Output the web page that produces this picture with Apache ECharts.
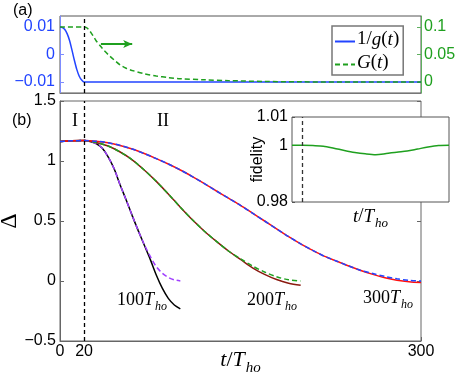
<!DOCTYPE html>
<html>
<head>
<meta charset="utf-8">
<script src="https://cdn.jsdelivr.net/npm/echarts@6/dist/echarts.min.js"></script>
<style>html,body{margin:0;padding:0;background:#fff;}#c{width:463px;height:386px;}</style>
</head>
<body>
<div id="c"></div>
<script>
// ---- panel (a) data ----
var tInvG = [0, 2, 4, 6, 8, 10, 12, 14, 16, 18, 20, 22, 300];
var invG  = [0.01, 0.0098, 0.0091, 0.0075, 0.005, 0.0015, -0.0022, -0.0055, -0.0079, -0.0093, -0.01, -0.01, -0.01];
var tG = [0, 20, 22, 24, 26, 28, 30, 33, 36, 40, 45, 50, 55, 60, 70, 80, 90, 100, 120, 140, 170, 200, 250, 300];
var Gv = [0.1, 0.1, 0.099, 0.095, 0.089, 0.082, 0.075, 0.067, 0.059, 0.05, 0.04, 0.031, 0.025, 0.021, 0.015, 0.011, 0.008, 0.006, 0.004, 0.0025, 0.001, 0.0003, 0, 0];
var leftTicksA = [-0.01, 0, 0.01];
var rightTicksA = [0, 0.05, 0.1];

// ---- panel (b) data ----
var t100 = [0, 10, 20, 25, 30, 35, 40, 45, 50, 55, 60, 65, 70, 75, 80, 85, 90, 95, 100];
var black100  = [1.163, 1.168, 1.17, 1.163, 1.145, 1.108, 1.035, 0.935, 0.80, 0.675, 0.545, 0.42, 0.30, 0.18, 0.05, -0.06, -0.145, -0.2, -0.232];
var purple100 = [1.163, 1.168, 1.17, 1.163, 1.145, 1.108, 1.035, 0.935, 0.80, 0.675, 0.545, 0.42, 0.305, 0.205, 0.12, 0.065, 0.03, 0.01, 0.0];
var t200 = [0, 10, 20, 30, 40, 50, 60, 70, 80, 90, 100, 110, 120, 130, 140, 150, 160, 170, 180, 190, 200];
var brown200 = [1.163, 1.168, 1.17, 1.155, 1.125, 1.075, 1.01, 0.925, 0.83, 0.725, 0.615, 0.51, 0.415, 0.33, 0.25, 0.18, 0.11, 0.055, 0.012, -0.018, -0.036];
var green200 = [1.163, 1.168, 1.17, 1.155, 1.125, 1.075, 1.01, 0.925, 0.83, 0.725, 0.615, 0.51, 0.415, 0.33, 0.25, 0.185, 0.125, 0.075, 0.035, 0.01, 0.0];
var t300 = [0, 10, 20, 30, 40, 50, 60, 70, 80, 90, 100, 110, 120, 130, 140, 150, 160, 170, 180, 190, 200, 210, 220, 230, 240, 250, 260, 270, 280, 290, 300];
var red300  = [1.163, 1.168, 1.17, 1.165, 1.152, 1.13, 1.1, 1.062, 1.02, 0.975, 0.925, 0.87, 0.812, 0.75, 0.69, 0.63, 0.565, 0.5, 0.435, 0.37, 0.31, 0.255, 0.205, 0.165, 0.125, 0.088, 0.055, 0.027, 0.007, -0.006, -0.013];
var blue300 = [1.163, 1.168, 1.17, 1.165, 1.152, 1.13, 1.1, 1.062, 1.02, 0.975, 0.925, 0.87, 0.812, 0.75, 0.69, 0.63, 0.565, 0.5, 0.435, 0.37, 0.31, 0.255, 0.205, 0.165, 0.125, 0.088, 0.062, 0.038, 0.018, 0.005, 0.0];
var xTicksB = [0, 20, 300];

// ---- inset data ----
var tFid = [0, 20, 40, 60, 80, 100, 120, 140, 160, 180, 200, 220, 240, 260, 280, 300];
var fid  = [1.0, 1.0, 0.9999, 0.9997, 0.999, 0.9982, 0.9975, 0.997, 0.9967, 0.9971, 0.9976, 0.998, 0.9987, 0.9994, 0.9999, 1.0];
var fidTicks = [0.98, 1, 1.01];

var switchTime = 20;

function zip(a, b) { return a.map(function (v, i) { return [v, b[i]]; }); }
function fmt(v) { return v < 0 ? '\u2212' + String(Math.abs(v)) : String(v); }

var SANS = '"Liberation Sans", Arial, Helvetica, sans-serif';
var SERIF = '"Liberation Serif", "Times New Roman", serif';
function mathRich(size) {
  var pb = Math.round(size * 0.22);
  return {
    i: {fontFamily: SERIF, fontStyle: 'italic', fontSize: size, color: '#000', verticalAlign: 'bottom', padding: [0, 0, pb, 0]},
    n: {fontFamily: SERIF, fontSize: size, color: '#000', verticalAlign: 'bottom', padding: [0, 0, pb, 0]},
    s: {fontFamily: SERIF, fontStyle: 'italic', fontSize: Math.round(size * 0.68), color: '#000', verticalAlign: 'bottom', padding: [0, 0, 0, 1]}
  };
}

var BLUE = '#2244ff', GREEN = '#1fa01f', FRAME = '#666';
var vline = function (color) {
  return {silent: true, symbol: 'none', label: {show: false},
    lineStyle: {color: color, type: [4, 3], width: 1.3}, data: [{xAxis: switchTime}]};
};

var chart = echarts.init(document.getElementById('c'), null, {renderer: 'canvas'});
var option = {
  animation: false,
  backgroundColor: '#fff',
  grid: [
    {left: 60, top: 16, width: 361, height: 77, show: true, borderColor: '#555', borderWidth: 1, outerBoundsMode: 'none', containLabel: false},
    {left: 60, top: 101, width: 361, height: 240, show: true, borderColor: FRAME, borderWidth: 1, outerBoundsMode: 'none', containLabel: false},
    {left: 292, top: 117, width: 157, height: 85, show: true, borderColor: '#555', borderWidth: 1, backgroundColor: '#fff', z: 10, outerBoundsMode: 'none', containLabel: false}
  ],
  legend: {
    data: ['1/g(t)', 'G(t)'],
    orient: 'vertical', left: 332, top: 26,
    itemWidth: 20, itemHeight: 12, itemGap: 4,
    padding: [4, 4, 3, 2],
    backgroundColor: '#fff', borderColor: '#777', borderWidth: 1.5,
    itemStyle: {opacity: 0},
    formatter: function (name) {
      return name === '1/g(t)' ? '{n|1/}{i|g}{n|(}{i|t}{n|)}' : '{i|G}{n|(}{i|t}{n|)}';
    },
    textStyle: {rich: mathRich(19), padding: [0, 0, 0, -3]}
  },
  xAxis: [
    {gridIndex: 0, type: 'value', min: 0, max: 300,
      axisLine: {show: true, onZero: false, lineStyle: {color: '#777'}},
      axisTick: {show: false}, axisLabel: {show: false}, splitLine: {show: false}},
    {gridIndex: 1, type: 'value', min: 0, max: 300,
      axisLine: {show: true, onZero: false, lineStyle: {color: FRAME}},
      axisTick: {show: true, inside: true, length: 4, customValues: xTicksB, lineStyle: {color: FRAME}},
      axisLabel: {customValues: xTicksB, color: '#000', fontSize: 16, fontFamily: SANS, margin: 3},
      splitLine: {show: false},
      name: '{i|t}{n|/}{i|T}{s|ho}', nameLocation: 'middle', nameGap: 8, nameMoveOverlap: false,
      nameTextStyle: {rich: mathRich(22)}},
    {gridIndex: 2, type: 'value', min: 0, max: 300, z: 11,
      axisLine: {show: false, onZero: false}, axisTick: {show: false}, axisLabel: {show: false}, splitLine: {show: false},
      name: '{i|t}{n|/}{i|T}{s|ho}', nameLocation: 'middle', nameGap: 5, nameMoveOverlap: false,
      nameTextStyle: {rich: mathRich(19)}}
  ],
  yAxis: [
    {gridIndex: 0, type: 'value', min: -0.014, max: 0.014, position: 'left',
      axisLine: {show: true, onZero: false, lineStyle: {color: '#7d8cff'}},
      axisTick: {show: true, inside: true, length: 4, customValues: leftTicksA, lineStyle: {color: '#7d8cff'}},
      axisLabel: {customValues: leftTicksA, color: BLUE, fontSize: 16, fontFamily: SANS, margin: 5, formatter: fmt},
      splitLine: {show: false}},
    {gridIndex: 0, type: 'value', min: -0.02, max: 0.12, position: 'right',
      axisLine: {show: true, onZero: false, lineStyle: {color: '#5fb05f'}},
      axisTick: {show: true, inside: true, length: 4, customValues: rightTicksA, lineStyle: {color: '#5fb05f'}},
      axisLabel: {customValues: rightTicksA, color: GREEN, fontSize: 16, fontFamily: SANS, margin: 3, formatter: fmt},
      splitLine: {show: false}},
    {gridIndex: 1, type: 'value', min: -0.5, max: 1.5, interval: 0.5, position: 'left',
      axisLine: {show: true, onZero: false, lineStyle: {color: FRAME}},
      axisTick: {show: true, inside: true, length: 4, lineStyle: {color: FRAME}},
      axisLabel: {color: '#000', fontSize: 16, fontFamily: SANS, margin: 4, formatter: fmt},
      splitLine: {show: false},
      name: '\u0394', nameLocation: 'middle', nameRotate: 90, nameGap: 38, nameMoveOverlap: false,
      nameTextStyle: {fontFamily: SERIF, fontSize: 24, color: '#000'}},
    {gridIndex: 1, type: 'value', min: -0.5, max: 1.5, interval: 0.5, position: 'right',
      axisLine: {show: false, onZero: false},
      axisTick: {show: true, inside: true, length: 4, lineStyle: {color: FRAME}},
      axisLabel: {show: false}, splitLine: {show: false}},
    {gridIndex: 2, type: 'value', min: 0.98, max: 1.01, position: 'left', z: 11,
      axisLine: {show: false, onZero: false},
      axisTick: {show: true, inside: true, length: 3, customValues: fidTicks, lineStyle: {color: '#555'}},
      axisLabel: {customValues: fidTicks, color: '#000', fontSize: 16, fontFamily: SANS, margin: 4, formatter: fmt},
      splitLine: {show: false},
      name: 'fidelity', nameLocation: 'middle', nameRotate: 90, nameGap: 26, nameMoveOverlap: false,
      nameTextStyle: {fontFamily: SANS, fontSize: 16, color: '#000'}}
  ],
  series: [
    {name: '1/g(t)', type: 'line', xAxisIndex: 0, yAxisIndex: 0, data: zip(tInvG, invG),
      showSymbol: false, symbol: 'none', smooth: 0.3, color: BLUE, lineStyle: {color: BLUE, width: 1.5},
      markLine: vline('#000')},
    {name: 'G(t)', type: 'line', xAxisIndex: 0, yAxisIndex: 1, data: zip(tG, Gv),
      showSymbol: false, symbol: 'none', smooth: 0.3, color: GREEN, lineStyle: {color: GREEN, width: 1.5, type: [5, 3]},
      markLine: {silent: true, symbol: ['none', 'arrow'], symbolSize: [6, 9], label: {show: false},
        lineStyle: {color: GREEN, type: 'solid', width: 2},
        data: [[{coord: [34, 0.069]}, {coord: [60, 0.069]}]]}},
    {name: 'black100', type: 'line', xAxisIndex: 1, yAxisIndex: 2, data: zip(t100, black100),
      symbol: 'none', smooth: 0.3, lineStyle: {color: '#000', width: 1.5}},
    {name: 'purple100', type: 'line', xAxisIndex: 1, yAxisIndex: 2, data: zip(t100, purple100),
      symbol: 'none', smooth: 0.3, lineStyle: {color: '#a040ff', width: 1.5, type: [5, 3]}},
    {name: 'brown200', type: 'line', xAxisIndex: 1, yAxisIndex: 2, data: zip(t200, brown200),
      symbol: 'none', smooth: 0.3, lineStyle: {color: '#8b1a10', width: 1.5}},
    {name: 'green200', type: 'line', xAxisIndex: 1, yAxisIndex: 2, data: zip(t200, green200),
      symbol: 'none', smooth: 0.3, lineStyle: {color: GREEN, width: 1.5, type: [5, 3]}},
    {name: 'red300', type: 'line', xAxisIndex: 1, yAxisIndex: 2, data: zip(t300, red300),
      symbol: 'none', smooth: 0.3, lineStyle: {color: '#ff1010', width: 1.5}},
    {name: 'blue300', type: 'line', xAxisIndex: 1, yAxisIndex: 2, data: zip(t300, blue300),
      symbol: 'none', smooth: 0.3, lineStyle: {color: BLUE, width: 1.5, type: [5, 3]},
      markLine: vline('#000')},
    {name: 'fidelity', type: 'line', xAxisIndex: 2, yAxisIndex: 4, data: zip(tFid, fid), z: 12,
      symbol: 'none', smooth: 0.3, lineStyle: {color: GREEN, width: 1.5},
      markLine: Object.assign(vline('#333'), {z: 13})}
  ],
  graphic: [
    {type: 'text', x: 13, y: 11, style: {text: '(a)', font: '16px ' + SANS, fill: '#000', verticalAlign: 'middle'}},
    {type: 'text', x: 12, y: 121, style: {text: '(b)', font: '16px ' + SANS, fill: '#000', verticalAlign: 'middle'}},
    {type: 'text', x: 75, y: 121, style: {text: 'I', font: '18px ' + SERIF, fill: '#000', align: 'center', verticalAlign: 'middle'}},
    {type: 'text', x: 163, y: 121, style: {text: 'II', font: '18px ' + SERIF, fill: '#000', align: 'center', verticalAlign: 'middle'}},
    {type: 'text', x: 142, y: 302, style: {text: '{n|100}{i|T}{s|ho}', rich: mathRich(18), align: 'center', verticalAlign: 'middle'}},
    {type: 'text', x: 272, y: 302, style: {text: '{n|200}{i|T}{s|ho}', rich: mathRich(18), align: 'center', verticalAlign: 'middle'}},
    {type: 'text', x: 388, y: 300, style: {text: '{n|300}{i|T}{s|ho}', rich: mathRich(18), align: 'center', verticalAlign: 'middle'}}
  ]
};
chart.setOption(option);
</script>
</body>
</html>
